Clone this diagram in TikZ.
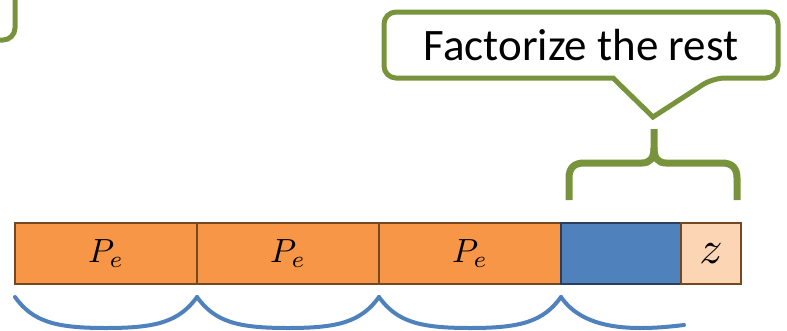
\documentclass[tikz,border=0pt]{standalone}
\usepackage{fontspec}
\setmainfont{Carlito}
\usetikzlibrary{positioning}

\definecolor{calloutgreen}{RGB}{119,147,60}
\definecolor{segorange}{RGB}{247,150,70}
\definecolor{segborder}{RGB}{116,72,34}
\definecolor{restblue}{RGB}{79,129,189}
\definecolor{restborder}{RGB}{44,62,92}
\definecolor{zpeach}{RGB}{252,213,181}
\definecolor{bracehue}{RGB}{79,129,189}

\newcommand{\segmath}[2]{\scalebox{#1}{$#2$}}

\begin{document}
\begin{tikzpicture}[
    x=1pt, y=-1pt,
    node distance=0pt,
    seg/.style={draw=segborder, line width=2.8pt, minimum height=61pt, inner sep=0pt, outer sep=0pt},
    pebox/.style={seg, fill=segorange, minimum width=182pt},
    restbox/.style={seg, draw=restborder, fill=restblue, minimum width=120pt},
    zbox/.style={seg, fill=zpeach, minimum width=60pt},
    gline/.style={draw=calloutgreen, line width=5pt},
    gbrace/.style={draw=calloutgreen, line width=7pt},
    bbrace/.style={draw=bracehue, line width=4pt, line cap=round}
]
\useasboundingbox (0,0) rectangle (787,330);

% cut-off callout at the top left
\draw[gline, rounded corners=12pt] (15,-5) |- (-5,40);

% the callout
\node[font=\fontsize{45}{54}\selectfont, inner sep=0pt] (restnote) at (581,45) {Factorize the rest};
\draw[gline] (581,12) [rounded corners=12pt] -| (778,78) -- (713,78) [sharp corners] -- (653,117) -- (613,78) [rounded corners=12pt] -| (384,12) -- cycle;

% the bar
\node[pebox, anchor=west] (pe1) at (15,253.5) {\segmath{3.35}{P_e}};
\node[pebox, right=of pe1] (pe2) {\segmath{3.35}{P_e}};
\node[pebox, right=of pe2] (pe3) {\segmath{3.35}{P_e}};
\node[restbox, right=of pe3] (rest) {};
\node[zbox, right=of rest] (zend) {\segmath{4.6}{z}};

% brace over the rest
\draw[gbrace] (569,200) -- (569,178) .. controls (569,168) and (574,163) .. (584,163) -- (642,163) .. controls (650,163) and (654,158) .. (654,148) -- (654,129);
\draw[gbrace] (737,200) -- (737,178) .. controls (737,168) and (732,163) .. (722,163) -- (666,163) .. controls (658,163) and (654,158) .. (654,148);

% braces below
\foreach \a/\b in {15/197,197/379,379/561} {
  \pgfmathsetmacro\m{(\a+\b)/2}
  \draw[bbrace] (\a,297) .. controls (\a+18,322) and (\m-50,328) .. (\m,328) .. controls (\m+50,328) and (\b-18,322) .. (\b,297);
}
\draw[bbrace] (561,297) .. controls (578,322) and (610,328) .. (640,328) .. controls (660,328) and (675,326) .. (684,325);
\end{tikzpicture}
\end{document}
